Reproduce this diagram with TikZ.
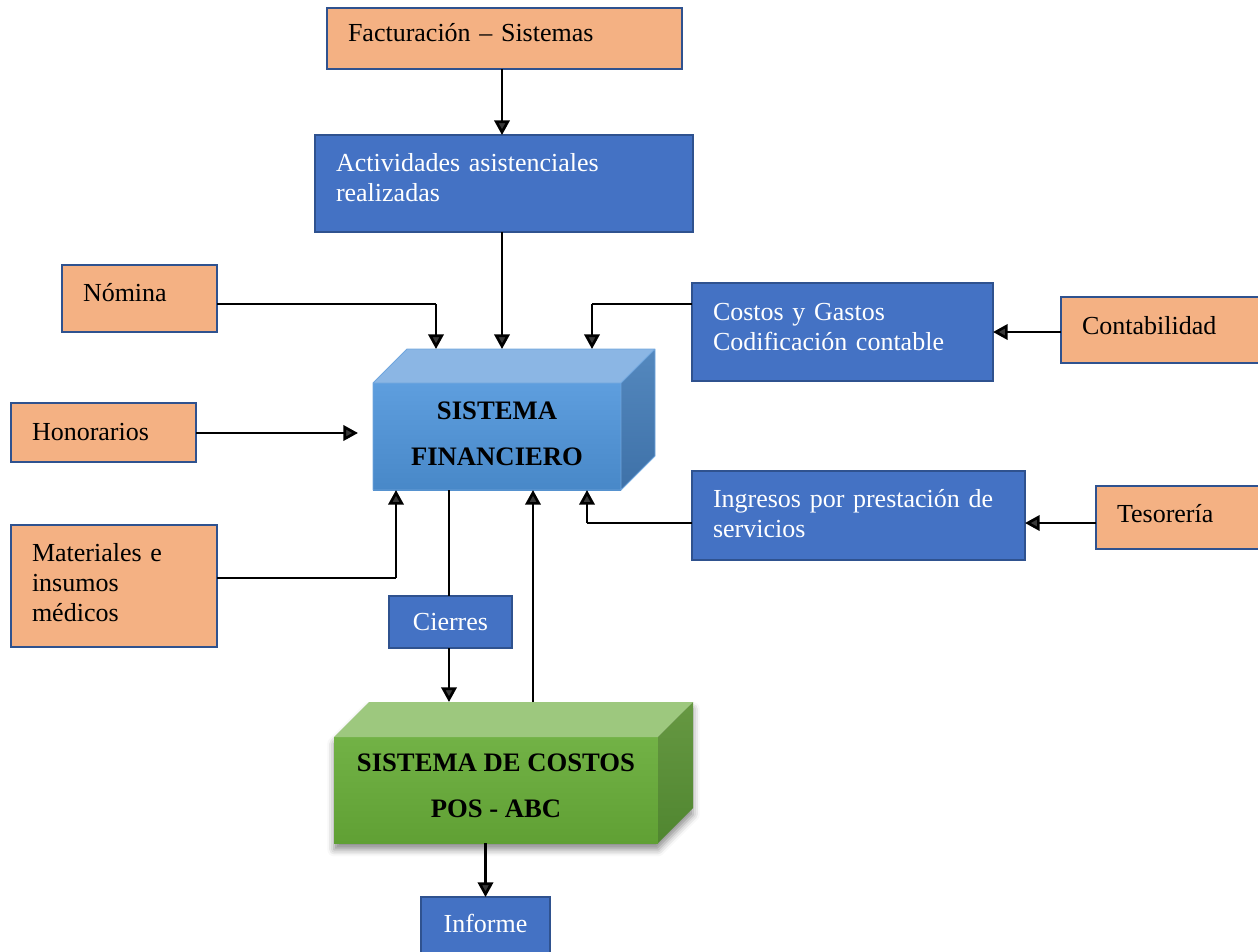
\documentclass[tikz,border=0pt]{standalone}
\usepackage{fontspec}
\setmainfont{Liberation Serif}
\usetikzlibrary{arrows.meta,shadows.blur}

\definecolor{peach}{HTML}{F4B183}
\definecolor{procblue}{HTML}{4472C4}
\definecolor{boxedge}{HTML}{2F528F}
% blue 3D block
\definecolor{finTop}{RGB}{139,182,228}
\definecolor{finFrontA}{RGB}{94,158,222}
\definecolor{finFrontB}{RGB}{72,136,200}
\definecolor{finSideA}{RGB}{84,136,190}
\definecolor{finSideB}{RGB}{62,113,168}
\definecolor{finEdge}{RGB}{112,166,222}
% green 3D block
\definecolor{cosTop}{RGB}{157,200,126}
\definecolor{cosFrontA}{RGB}{114,178,70}
\definecolor{cosFrontB}{RGB}{96,160,52}
\definecolor{cosSideA}{RGB}{102,152,66}
\definecolor{cosSideB}{RGB}{80,134,48}

\begin{document}
\begin{tikzpicture}[x=0.75pt,y=-0.75pt,
  every node/.style={font=\fontsize{19.5}{22.5}\selectfont},
  box/.style={draw=boxedge,line width=1.5pt,inner xsep=15.75pt,inner ysep=0pt,outer sep=0pt,align=left},
  src/.style={box,fill=peach,text=black},
  proc/.style={box,fill=procblue,text=white},
  % extra depth under the last line lifts the text inside its box
  lift/.style={execute at end node={\rule[-#1]{0pt}{0pt}}},
  arr/.style={line width=2pt,-{Triangle[length=11pt,width=11.5pt]}},
  link/.style={line width=1pt},
  face/.style={inner sep=0pt,outer sep=0pt},
  bigtext/.style={font=\fontsize{20}{34.5}\selectfont\bfseries,align=center,text=black},
]
\useasboundingbox (0,0) rectangle (1258,951);

% ---------- source and process boxes ----------
\node[src,lift=8.5pt,minimum width=266.25pt,minimum height=45.75pt,text width=234.75pt] (fact) at (504.5,38.5) {Facturación – Sistemas};
\node[proc,lift=9pt,minimum width=283.5pt,minimum height=72.75pt,text width=252pt] (act) at (504,183.5) {Actividades asistenciales\\realizadas};
\node[src,lift=9pt,minimum width=116.25pt,minimum height=50.25pt,text width=84.75pt] (nom) at (139.5,298.5) {Nómina};
\node[proc,lift=7.5pt,minimum width=225.75pt,minimum height=73.5pt,text width=194.25pt] (cost) at (842.5,332) {Costos y Gastos\\Codificación contable};
\node[src,lift=7.5pt,minimum width=150.75pt,minimum height=49.5pt,text width=119.25pt] (cont) at (1161.5,330) {Contabilidad};
\node[src,lift=1.5pt,minimum width=138.75pt,minimum height=44.25pt,text width=107.25pt] (hon) at (103.5,432.5) {Honorarios};
\node[proc,lift=3pt,minimum width=249.75pt,minimum height=66.75pt,text width=218.25pt] (ing) at (858.5,515.5) {Ingresos por prestación de\\servicios};
\node[src,lift=6pt,minimum width=124.5pt,minimum height=47.25pt,text width=93pt] (tes) at (1179,517.5) {Tesorería};
\node[src,lift=6pt,minimum width=154.5pt,minimum height=91.5pt,text width=123pt] (mat) at (114,586) {Materiales e\\insumos\\médicos};
\node[proc,minimum width=92.25pt,minimum height=39pt,inner xsep=0pt,align=center] (cie) at (450.5,622) {Cierres};
\node[proc,lift=4.5pt,minimum width=96.75pt,minimum height=43.5pt,inner xsep=0pt,align=center] (inf) at (485.5,926) {Informe};

% ---------- SISTEMA FINANCIERO block ----------
\node[face,minimum width=186pt,minimum height=80.25pt] (sf) at (497,436.5) {};
\shade[top color=finFrontA,bottom color=finFrontB] (373,383) rectangle (621,490);
\fill[finTop] (373,383) -- (407,349) -- (655,349) -- (621,383) -- cycle;
\shade[top color=finSideA,bottom color=finSideB] (621,383) -- (655,349) -- (655,456) -- (621,490) -- cycle;
\draw[finEdge,line width=0.7pt,line join=round]
  (373,383) -- (407,349) -- (655,349) -- (655,456) -- (621,490) -- (373,490) -- cycle
  (373,383) -- (621,383) -- (655,349) (621,383) -- (621,490);
\node[bigtext] (sft) at (497,434) {SISTEMA\\FINANCIERO};
\coordinate (sfback) at (407,349);

% ---------- SISTEMA DE COSTOS block ----------
\path[blur shadow={shadow xshift=0pt,shadow yshift=-5pt,shadow blur radius=5pt,shadow opacity=45}]
  (334,737) -- (369,702) -- (693,702) -- (693,808) -- (658,843) -- (334,843) -- cycle;
\node[face,minimum width=243pt,minimum height=79.5pt] (sc) at (496,790) {};
\shade[top color=cosFrontA,bottom color=cosFrontB] (334,737) rectangle (658,843);
\fill[cosTop] (334,737) -- (369,702) -- (693,702) -- (658,737) -- cycle;
\shade[top color=cosSideA,bottom color=cosSideB] (658,737) -- (693,702) -- (693,808) -- (658,843) -- cycle;
\node[bigtext] (sct) at (496,785.5) {SISTEMA DE COSTOS\\POS - ABC};
\coordinate (scback) at (369,702);

% ---------- connectors ----------
\coordinate (vx) at (502,0);
\draw[arr] (vx |- fact.south) -- (vx |- act.north);
\draw[arr] (vx |- act.south) -- (vx |- sfback);

\coordinate (nbend) at (436,304);
\draw[link] (nom.east |- nbend) -- (nbend);
\draw[arr] (nbend) -- (nbend |- sfback);

\coordinate (cbend) at (592,304);
\draw[link] (cost.west |- cbend) -- (cbend);
\draw[arr] (cbend) -- (cbend |- sfback);

\coordinate (kline) at (0,332);
\draw[arr] (cont.west |- kline) -- (cost.east |- kline);

\coordinate (hend) at (358,433);
\draw[arr] (hon.east |- hend) -- (hend);

\coordinate (mbend) at (396,578);
\draw[link] (mat.east |- mbend) -- (mbend);
\draw[arr] (mbend) -- (mbend |- sf.south);

\coordinate (ibend) at (587,523);
\draw[link] (ing.west |- ibend) -- (ibend);
\draw[arr] (ibend) -- (ibend |- sf.south);
\draw[arr] (tes.west |- ibend) -- (ing.east |- ibend);

\coordinate (cx) at (449,0);
\draw[link] (cx |- sf.south) -- (cx |- cie.north);
\draw[arr] (cx |- cie.south) -- (cx |- scback);

\coordinate (gup) at (533,702);
\draw[arr] (gup) -- (gup |- sf.south);

\draw[arr] (inf.north |- sc.south) -- (inf.north);
\end{tikzpicture}
\end{document}
